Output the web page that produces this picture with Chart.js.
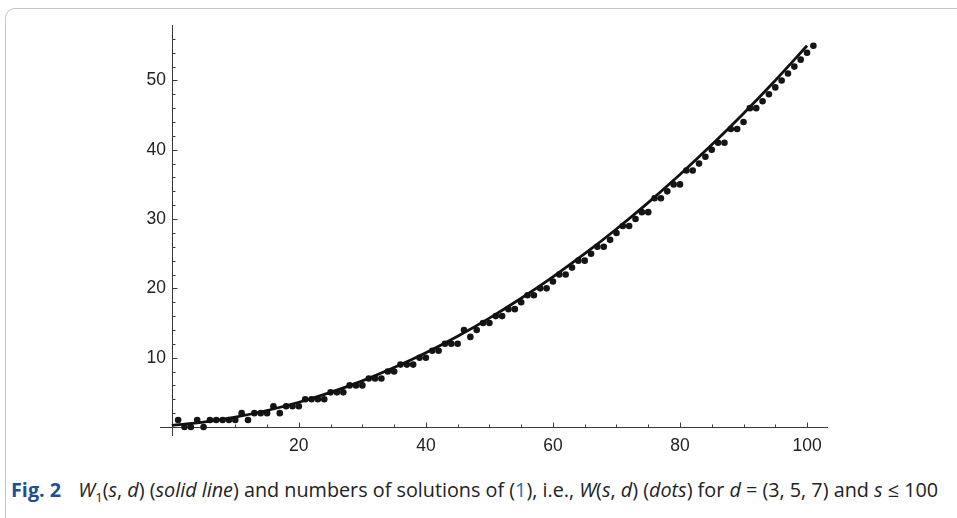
<!DOCTYPE html>
<html>
<head>
<meta charset="utf-8">
<script src="https://cdn.jsdelivr.net/npm/chart.js@4.4.1/dist/chart.umd.min.js"></script>
<style>
  html, body { margin: 0; padding: 0; background: #fff; }
  body { width: 957px; height: 518px; position: relative; overflow: hidden; }
  #frame {
    position: absolute; left: 5px; top: 8px; width: 1000px; height: 1000px;
    border: 1px solid #c4c4c4; border-radius: 10px; box-sizing: border-box;
  }
  #wrap { position: absolute; left: 0; top: 0; width: 957px; height: 470px; }
  #caption {
    position: absolute; left: 11px; top: 476px; white-space: nowrap;
    font-family: "Open Sans", "Noto Sans", sans-serif; font-size: 19.8px; color: #222;
  }
  #caption b { color: #1d4f91; margin-right: 12px; }
  #caption .ref { color: #2a6ebb; }
</style>
</head>
<body>
<div id="frame"></div>
<div id="wrap"><canvas id="chart"></canvas></div>
<div id="caption"><b>Fig. 2</b> <i>W</i><sub style="font-size:13px">1</sub>(<i>s</i>, <i>d</i>) (<i>solid line</i>) and numbers of solutions of (<span class="ref">1</span>), i.e., <i>W</i>(<i>s</i>, <i>d</i>) (<i>dots</i>) for <i>d</i> = (3, 5, 7) and <i>s</i> ≤ 100</div>
<script>
// W(s, d) for s = 0..100, plotted at positions 1..101
const dotCounts = [
  1, 0, 0, 1, 0, 1, 1, 1, 1, 1,
  2, 1, 2, 2, 2, 3, 2, 3, 3, 3,
  4, 4, 4, 4, 5, 5, 5, 6, 6, 6,
  7, 7, 7, 8, 8, 9, 9, 9, 10, 10,
  11, 11, 12, 12, 12, 14, 13, 14, 15, 15,
  16, 16, 17, 17, 18, 19, 19, 20, 20, 21,
  22, 22, 23, 24, 24, 25, 26, 26, 27, 28,
  29, 29, 30, 31, 31, 33, 33, 34, 35, 35,
  37, 37, 38, 39, 40, 41, 41, 43, 43, 44,
  46, 46, 47, 48, 49, 50, 51, 52, 53, 54,
  55
];

// solid line W1(s, d)
const lineS = [0, 5, 10, 15, 20, 25, 30, 35, 40, 45, 50, 55, 60, 65, 70, 75, 80, 85, 90, 95, 100];
const lineW = [0.24, 0.71, 1.43, 2.38, 3.57, 5.0, 6.66, 8.57, 10.71, 13.09, 15.71, 18.57,
               21.67, 25.0, 28.57, 32.38, 36.43, 40.71, 45.24, 50.0, 55.0];

const xTickLabels = [20, 40, 60, 80, 100];
const yTickLabels = [10, 20, 30, 40, 50];

const axisColor = '#3a3a3a';

// Mathematica-style axes: lines through the origin, ticks pointing inward
const mathAxes = {
  id: 'mathAxes',
  beforeDatasetsDraw(chart) {
    const { ctx, scales: { x, y } } = chart;
    const x0 = Math.round(x.getPixelForValue(0)) + 0.5;
    const y0 = Math.round(y.getPixelForValue(0)) + 0.5;
    ctx.save();
    ctx.strokeStyle = axisColor;
    ctx.lineWidth = 1;
    ctx.beginPath();
    ctx.moveTo(x.left - 6, y0);
    ctx.lineTo(x.right, y0);
    ctx.moveTo(x0, y.bottom);
    ctx.lineTo(x0, y.top);
    for (let v = 5; v <= 100; v += 5) {
      const px = Math.round(x.getPixelForValue(v)) + 0.5;
      const len = xTickLabels.includes(v) ? 5 : 3;
      ctx.moveTo(px, y0);
      ctx.lineTo(px, y0 - len);
    }
    for (let v = 2; v <= 56; v += 2) {
      const py = Math.round(y.getPixelForValue(v)) + 0.5;
      const len = yTickLabels.includes(v) ? 5 : 3;
      ctx.moveTo(x0, py);
      ctx.lineTo(x0 + len, py);
    }
    ctx.stroke();
    ctx.restore();
  }
};

const tickFont = { family: '"Liberation Sans", Arial, sans-serif', size: 17.5 };

new Chart(document.getElementById('chart'), {
  type: 'scatter',
  data: {
    datasets: [
      {
        type: 'line',
        label: 'W1(s, d)',
        data: lineS.map((s, i) => ({ x: s, y: lineW[i] })),
        borderColor: '#111',
        borderWidth: 2.8,
        pointRadius: 0,
        fill: false,
        cubicInterpolationMode: 'monotone'
      },
      {
        label: 'W(s, d)',
        data: dotCounts.map((w, i) => ({ x: i + 1, y: w })),
        backgroundColor: '#151515',
        borderWidth: 0,
        pointRadius: 3.3,
        pointHoverRadius: 3.3
      }
    ]
  },
  options: {
    responsive: true,
    maintainAspectRatio: false,
    animation: false,
    events: [],
    clip: false,
    layout: { padding: { top: 25, right: 129, bottom: 4, left: 0 } },
    plugins: { legend: { display: false }, tooltip: { enabled: false } },
    scales: {
      x: {
        type: 'linear',
        position: 'bottom',
        min: -0.91,
        max: 103.3,
        grid: { display: false, drawTicks: false },
        border: { display: false },
        afterBuildTicks: s => { s.ticks = xTickLabels.map(v => ({ value: v })); },
        afterFit: s => { s.height = 30; },
        ticks: { font: tickFont, color: '#222', padding: 0, maxRotation: 0, autoSkip: false }
      },
      y: {
        type: 'linear',
        position: 'left',
        min: -1.3,
        max: 58,
        grid: { display: false, drawTicks: false },
        border: { display: false },
        afterBuildTicks: s => { s.ticks = yTickLabels.map(v => ({ value: v })); },
        afterFit: s => { s.width = 166; },
        ticks: { font: tickFont, color: '#222', padding: 0, autoSkip: false }
      }
    }
  },
  plugins: [mathAxes]
});
</script>
</body>
</html>
